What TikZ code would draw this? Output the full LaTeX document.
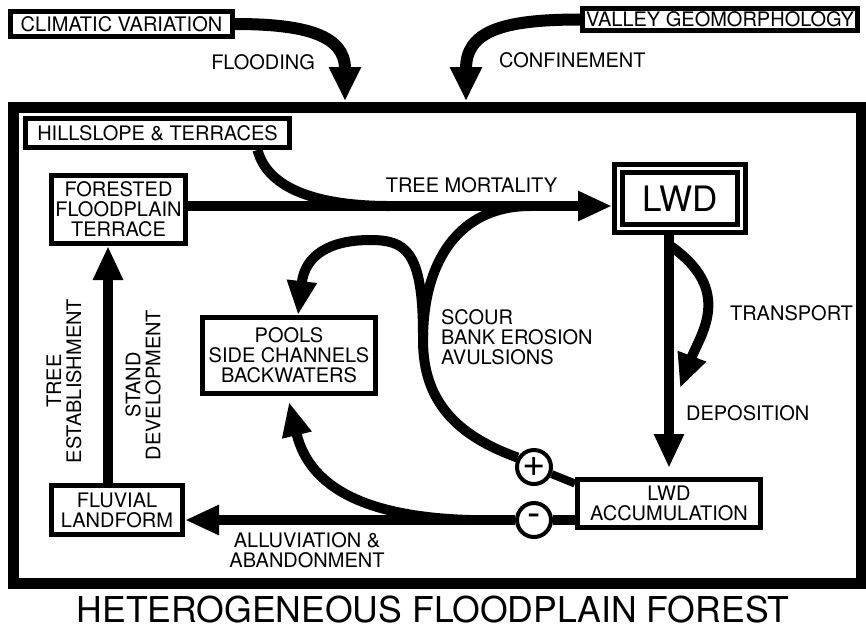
\documentclass[tikz,border=0pt]{standalone}
\usepackage{fontspec}
\setmainfont{TeX Gyre Heros}
\usetikzlibrary{arrows.meta}

\begin{document}
\begin{tikzpicture}[x=0.5pt,y=-0.5pt,
    every node/.style={font=\fontsize{10}{10}\selectfont},
    box/.style={draw,line width=2.5pt,inner sep=0pt,align=center},
    sign/.style={draw,circle,line width=2pt,minimum size=17pt,inner sep=0pt,font=\fontsize{20}{20}\selectfont},
    flow/.style={line width=5pt,-{Triangle[width=14pt,length=17pt]}},
    bigflow/.style={line width=6pt,-{Triangle[width=15pt,length=17pt]}},
    link/.style={line width=5pt}]
  \useasboundingbox (0,0) rectangle (866,629);
  \draw[line width=5.5pt] (13,107) rectangle (861,583);

  \node[box,minimum width=111pt,minimum height=12.5pt] (climate) at (121.5,24) {CLIMATIC VARIATION};
  \node[box,minimum width=137.5pt,minimum height=11pt] (valley) at (720,19.5) {VALLEY GEOMORPHOLOGY};
  \node[box,minimum width=132pt,minimum height=14.5pt] (hill) at (157.5,133) {HILLSLOPE \& TERRACES};
  \node[box,minimum width=67pt,minimum height=34pt] (forest) at (118.5,209.5) {FORESTED\\FLOODPLAIN\\TERRACE};
  \node[box,double,double distance=1.5pt,outer sep=3.25pt,minimum width=61.5pt,minimum height=30pt,
        font=\fontsize{17.5}{17.5}\selectfont] (lwd) at (680,198.5) {LWD};
  \node[box,minimum width=86.5pt,minimum height=38pt] (pools) at (289,355.5) {POOLS\\SIDE CHANNELS\\BACKWATERS};
  \node[box,minimum width=65.5pt,minimum height=24.5pt] (fluvial) at (117,510) {FLUVIAL\\LANDFORM};
  \node[box,minimum width=91.5pt,minimum height=24pt] (accum) at (669,503.5) {LWD\\ACCUMULATION};
  \node[sign] (plus) at (534,467) {+};
  \node[sign] (minus) at (534,520) {-};

  % labels
  \node[anchor=east] (flooding) at (322,62) {FLOODING};
  \node[anchor=west] (confine) at (492,60) {CONFINEMENT};
  \node (mortality) at (471.5,185) {TREE MORTALITY};
  \node[anchor=west] (transport) at (723,313) {TRANSPORT};
  \node[anchor=west] (deposit) at (679,413) {DEPOSITION};
  \node[anchor=west,align=left] (scour) at (434,337) {SCOUR\\BANK EROSION\\AVULSIONS};
  \node[align=center] (alluv) at (307,550) {ALLUVIATION \&\\ABANDONMENT};
  \node[rotate=90,align=center] (establish) at (64,381) {TREE\\ESTABLISHMENT};
  \node[rotate=90,align=center] (stand) at (143,385) {STAND\\DEVELOPMENT};
  \node[font=\fontsize{17.8}{18}\selectfont] (title) at (433,610) {HETEROGENEOUS FLOODPLAIN FOREST};

  \coordinate (floodin) at (345,101);
  \coordinate (confin) at (466,101);
  \coordinate (mort) at ([yshift=1.75pt]forest.east);
  \coordinate (scourfork) at (423,335);
  \coordinate (transfork) at (669,245);
  \coordinate (transend) at (680,388);
  \coordinate (allufork) at (470,520);

  \draw[bigflow] (climate.east) .. controls (305,24) and (345,35) .. (floodin);
  \draw[bigflow] (valley.west) .. controls (500,19.5) and (466,32) .. (confin);
  \draw[flow] (mort) -- (mort -| lwd.west);
  \draw[link] ([xshift=50pt]hill.south) .. controls (268,190) and (320,206) .. (390,206);
  \draw[link] (plus.150) .. controls (455,435) and (423,400) .. (423,340)
              .. controls (423,260) and (460,206) .. (530,206);
  \draw[flow] (scourfork) .. controls (423,250) and (405,240) .. (370,240)
              .. controls (330,240) and (305,255) .. ([xshift=4.5pt]pools.north);
  \draw[flow] (lwd.south -| accum.north) -- ([yshift=4.5pt]accum.north);
  \draw[flow] (transfork) .. controls (735,290) and (700,335) .. (transend);
  \draw[line width=4pt] (plus) -- ([yshift=10pt]accum.west);
  \draw[link] (minus) -- (minus -| accum.west);
  \draw[flow] (minus) -- (minus -| fluvial.east);
  \draw[flow] (allufork) .. controls (370,517) and (310,490) .. ([yshift=-3pt]pools.south);
  \draw[flow] ([xshift=-4.5pt]fluvial.north) -- ([xshift=-4.5pt]fluvial.north |- forest.south);
\end{tikzpicture}
\end{document}
